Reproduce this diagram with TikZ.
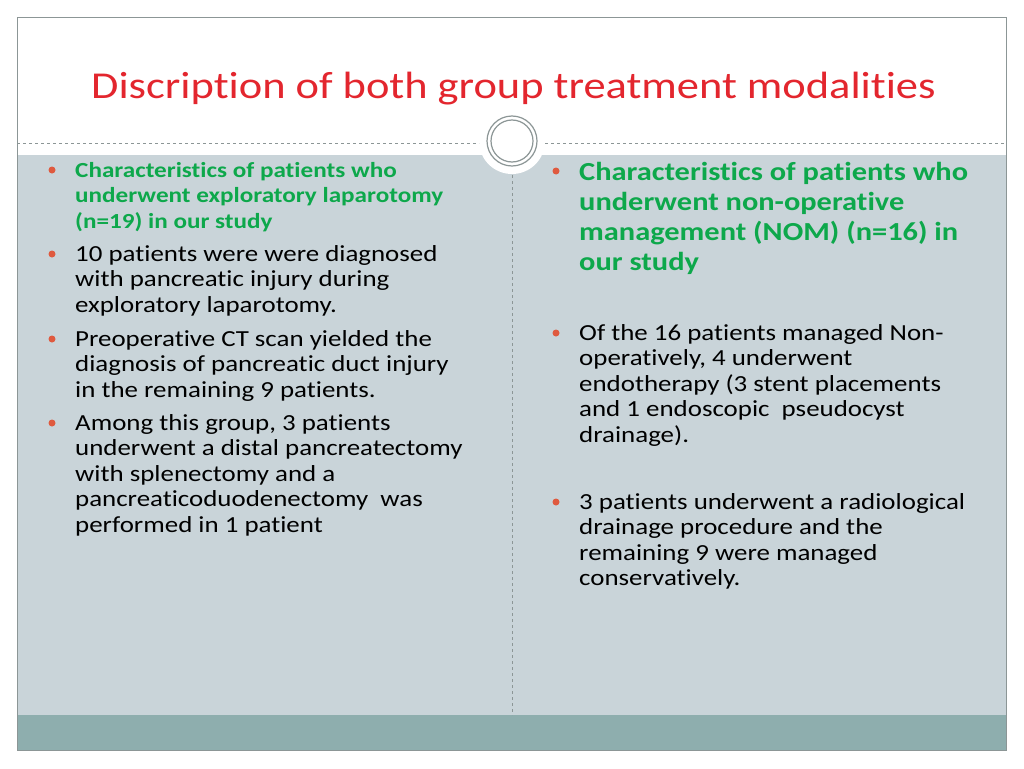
\documentclass[tikz,border=0pt]{standalone}
\usepackage{fontspec}
\setmainfont{Carlito}[FakeStretch=1.17, Ligatures={NoCommon}]
\definecolor{titlered}{HTML}{E3262E}
\definecolor{headgreen}{HTML}{0DA84B}
\definecolor{panelgray}{HTML}{C9D4D9}
\definecolor{bandteal}{HTML}{8EAEAE}
\definecolor{dotred}{HTML}{DF5A3F}
\definecolor{rulegray}{HTML}{8C9696}
\tikzset{
  para/.style={anchor=north west, align=left, inner sep=0pt, font=\fontsize{23}{25.6}\selectfont},
  headl/.style={para, text=headgreen, font=\bfseries\fontsize{21.5}{25.6}\selectfont},
  headr/.style={para, text=headgreen, font=\bfseries\fontsize{26}{30}\selectfont},
  dot/.style={circle, fill=dotred, inner sep=0pt, minimum size=7pt}
}
\begin{document}
\begin{tikzpicture}[x=1pt,y=-1pt]
  \useasboundingbox (0,0) rectangle (1024,768);
  \fill[white] (0,0) rectangle (1024,768);
  % panels
  \fill[panelgray] (17,155) rectangle (1006,715);
  \fill[bandteal] (17,715) rectangle (1006,750);
  \fill[white] (512,141) circle (33);
  \draw[rulegray] (17,17) rectangle (1006,750);
  \draw[rulegray, dashed] (17,143) -- (479,143);
  \draw[rulegray, dashed] (545,143) -- (1006,143);
  \draw[rulegray, dashed] (512,175) -- (512,715);
  \draw[rulegray, line width=1.2pt] (512,141) circle (25);
  \draw[rulegray, line width=1.2pt] (512,141) circle (21);
  % title
  \node[anchor=base west, inner sep=0pt, text=titlered, font=\fontsize{38}{40}\selectfont] (title) at (91,98) {Discription of both group treatment modalities};
  % left column
  \node[dot] (d1) at (52,170) {};
  \node[headl] (l1) at (75,162) {Characteristics of patients who\\underwent exploratory laparotomy\\(n=19) in our study};
  \node[dot] (d2) at (52,254) {};
  \node[para] (l2) at (75,245) {10 patients were were diagnosed\\with pancreatic injury during\\exploratory laparotomy.};
  \node[dot] (d3) at (52,339) {};
  \node[para] (l3) at (75,330) {Preoperative CT scan yielded the\\diagnosis of pancreatic duct injury\\in the remaining 9 patients.};
  \node[dot] (d4) at (52,423) {};
  \node[para] (l4) at (75,414) {Among this group, 3 patients\\underwent a distal pancreatectomy\\with splenectomy and a\\pancreaticoduodenectomy~ was\\performed in 1 patient};
  % right column
  \node[dot] (d5) at (556,171) {};
  \node[headr] (r1) at (579,162) {Characteristics of patients who\\underwent non-operative\\management (NOM) (n=16) in\\our study};
  \node[dot] (d6) at (556,333) {};
  \node[para] (r2) at (579,324) {Of the 16 patients managed Non-\\operatively, 4 underwent\\endotherapy (3 stent placements\\and 1 endoscopic~ pseudocyst\\drainage).};
  \node[dot] (d7) at (556,502) {};
  \node[para] (r3) at (579,493) {3 patients underwent a radiological\\drainage procedure and the\\remaining 9 were managed\\conservatively.};
\end{tikzpicture}
\end{document}
